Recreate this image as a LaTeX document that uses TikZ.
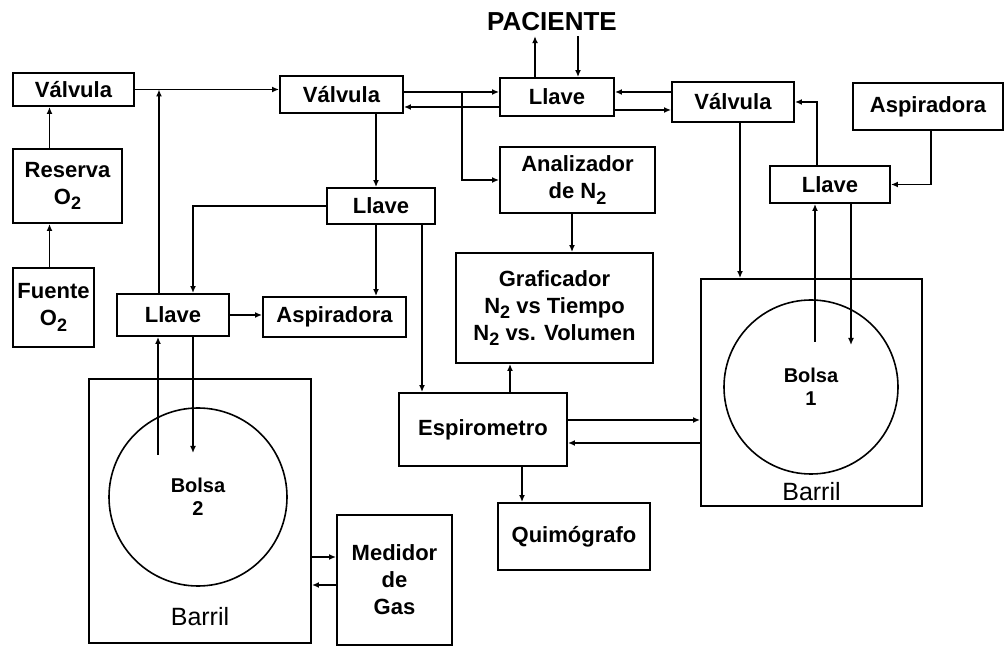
\documentclass[tikz,border=0pt]{standalone}
\usepackage{fontspec}
\setmainfont{Liberation Sans}
\usetikzlibrary{arrows.meta, calc}
\newcommand{\chemsub}[1]{\raisebox{-0.45ex}{\fontsize{9}{9}\selectfont #1}}

\begin{document}
\begin{tikzpicture}[
    x=0.5pt, y=-0.5pt,
    line width=0.95pt,
    >={Latex[length=3.5pt, width=3pt]},
    every node/.style={font=\fontsize{11}{13.5}\selectfont\bfseries, align=center},
    box/.style={draw, inner sep=1pt},
    bag/.style={draw, circle, inner sep=0pt, line width=0.8pt, font=\fontsize{10}{11.5}\selectfont\bfseries},
    barrel/.style={draw, inner sep=0pt},
    barlabel/.style={anchor=south, inner sep=1pt, font=\fontsize{12.5}{14}\selectfont}
]
    \useasboundingbox (0,0) rectangle (1007,646);

    % Oxygen side
    \node[box, minimum width=60.5pt, minimum height=16.5pt] (valv1) at (73.5,89.5) {Válvula};
    \node[box, minimum width=54.5pt, minimum height=37pt] (reserva) at (67.5,186) {Reserva\\O\chemsub{2}};
    \node[box, minimum width=40.5pt, minimum height=39.5pt] (fuente) at (53.5,307.5) {Fuente\\O\chemsub{2}};
    \node[box, minimum width=56pt, minimum height=21pt] (llaveL) at (173,315) {Llave};

    % Middle valves
    \node[box, minimum width=61.5pt, minimum height=18.5pt] (valv2) at (341.5,94.5) {Válvula};
    \node[box, minimum width=54pt, minimum height=18pt] (llaveM) at (381,206) {Llave};
    \node[box, minimum width=71.5pt, minimum height=20pt] (aspL) at (334.5,317) {Aspiradora};

    % Patient
    \node[font=\fontsize{13}{15}\selectfont\bfseries, inner sep=2pt] (paciente) at (552,22) {PACIENTE};
    \node[box, minimum width=57pt, minimum height=19pt] (llaveT) at (557,97) {Llave};
    \node[box, minimum width=77.5pt, minimum height=33pt] (analiz) at (577.5,180) {Analizador\\de N\chemsub{2}};
    \node[box, minimum width=98.5pt, minimum height=55pt] (grafic) at (554.5,308)
        {Graficador\\N\chemsub{2} vs Tiempo\\N\chemsub{2} vs. Volumen};
    \node[box, minimum width=84pt, minimum height=36.5pt] (espiro) at (483,429.5) {Espirometro};
    \node[box, minimum width=76pt, minimum height=33.5pt] (quimo) at (574,536.5) {Quimógrafo};

    % Right side
    \node[box, minimum width=61pt, minimum height=20pt] (valv3) at (733,102) {Válvula};
    \node[box, minimum width=75pt, minimum height=23.5pt] (aspR) at (928,106.5) {Aspiradora};
    \node[box, minimum width=60pt, minimum height=18.5pt] (llaveR) at (830,184.5) {Llave};

    % Barrels and bags
    \node[barrel, minimum width=110.5pt, minimum height=113.5pt] (barril1) at (811.5,392.5) {};
    \node[bag, minimum size=87pt] (bolsa1) at (811,387) {Bolsa\\1};
    \node[barlabel] (barrilA) at ($(barril1.south)+(0,-3)$) {Barril};
    \node[barrel, minimum width=111pt, minimum height=132pt] (barril2) at (200,511) {};
    \node[bag, minimum size=89pt] (bolsa2) at (198,497) {Bolsa\\2};
    \node[barlabel] (barrilB) at ($(barril2.south)+(0,-15)$) {Barril};
    \node[box, minimum width=57.5pt, minimum height=65pt] (medidor) at (394.5,580) {Medidor\\de\\Gas};

    \coordinate (union) at (159,89.5);
    \coordinate (rama) at (462,92);

    % Connections going up
    \foreach \a/\da/\b/\db in {fuente/-4/reserva/-18, reserva/-18/valv1/-24, espiro/27/grafic/-44.5}
        \draw[->] ($(\a.north)+(\da,0)$) -- ($(\b.south)+(\db,0)$);

    % Connections going down
    \foreach \a/\da/\b/\db in {valv2/34.5/llaveM/-5, llaveM/41/espiro/-61, llaveM/-5/aspL/41.5,
        analiz/-5.5/grafic/17.5, espiro/39/quimo/-52, valv3/7/barril1/-71.5}
        \draw[->] ($(\a.south)+(\da,0)$) -- ($(\b.north)+(\db,0)$);

    % Left side
    \draw[->] (valv1.east) -- (valv1.east -| valv2.west);
    \draw[->] (llaveL.north -| union) -- (union);
    \draw[->] (llaveM.west) -| ($(llaveL.north)+(20,0)$);
    \draw[->] (llaveL.east) -- (llaveL.east -| aspL.west);
    \draw[->] ($(llaveL.south)+(20,0)$) -- ($(bolsa2.center)+(-5,-44)$);
    \draw[<-] ($(llaveL.south)+(-15,0)$) -- ($(bolsa2.center)+(-40,-42)$);
    \draw[->] ($(barril2.east)+(0,46)$) -- ($(medidor.west)+(0,-23)$);
    \draw[<-] ($(barril2.east)+(0,74)$) -- ($(medidor.west)+(0,5)$);

    % Around the patient
    \draw[->] ($(valv2.east)+(0,-2.5)$) -- ($(llaveT.west)+(0,-5)$);
    \draw[<-] ($(valv2.east)+(0,12.5)$) -- ($(llaveT.west)+(0,10)$);
    \draw[->] (rama) |- (analiz.west);
    \draw[->] ($(llaveT.north)+(-22,0)$) -- ($(paciente.south)+(-17,0)$);
    \draw[->] ($(paciente.south)+(26,0)$) -- ($(llaveT.north)+(21,0)$);
    \draw[<-] ($(llaveT.east)+(0,-5)$) -- ($(valv3.west)+(0,-10)$);
    \draw[->] ($(llaveT.east)+(0,13)$) -- ($(valv3.west)+(0,8)$);
    \draw[->] ($(espiro.east)+(0,-9.5)$) -- ($(barril1.west)+(0,27.5)$);
    \draw[<-] ($(espiro.east)+(0,13.5)$) -- ($(barril1.west)+(0,50.5)$);

    % Right side
    \draw[->] ($(llaveR.north)+(-13,0)$) |- (valv3.east);
    \draw[->] ($(aspR.south)+(3,0)$) |- (llaveR.east);
    \draw[<-] ($(llaveR.south)+(-15,0)$) -- ($(bolsa1.center)+(4,-45)$);
    \draw[->] ($(llaveR.south)+(21,0)$) -- ($(bolsa1.center)+(40,-42)$);
\end{tikzpicture}
\end{document}
